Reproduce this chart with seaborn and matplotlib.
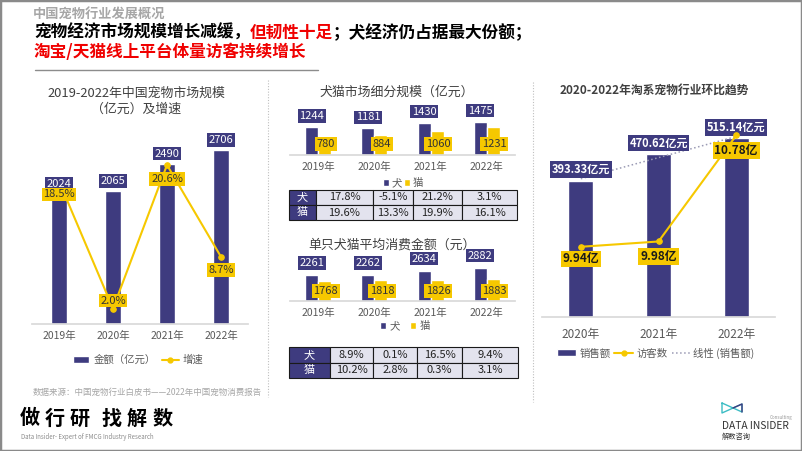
import matplotlib
matplotlib.use("Agg")
import matplotlib.pyplot as plt
import seaborn as sns
import numpy as np
import pandas as pd
from matplotlib.patches import Patch, Rectangle
from matplotlib.lines import Line2D

# data
years4 = ["2019年", "2020年", "2021年", "2022年"]
market_size = [2024, 2065, 2490, 2706]
market_growth = [18.5, 2.0, 20.6, 8.7]

dog_market = [1244, 1181, 1430, 1475]
cat_market = [780, 884, 1060, 1231]
dog_market_growth = ["17.8%", "-5.1%", "21.2%", "3.1%"]
cat_market_growth = ["19.6%", "13.3%", "19.9%", "16.1%"]

dog_spend = [2261, 2262, 2634, 2882]
cat_spend = [1768, 1818, 1826, 1883]
dog_spend_growth = ["8.9%", "0.1%", "16.5%", "9.4%"]
cat_spend_growth = ["10.2%", "2.8%", "0.3%", "3.1%"]

years3 = ["2020年", "2021年", "2022年"]
tb_sales = [393.33, 470.62, 515.14]
tb_visitors = [9.94, 9.98, 10.78]

NAVY = "#3e3b7f"
YELLOW = "#f6c800"
CELL = "#e3e3ee"
TICK = "#595959"
W, H = 802, 451

sns.set_theme(style="white")
plt.rcParams["font.family"] = ["Noto Sans CJK SC", "DejaVu Sans"]

fig = plt.figure(figsize=(W / 100, H / 100), dpi=100)


def rect(l, t, w, h):
    return [l / W, 1 - (t + h) / H, w / W, h / H]


def ftext(x, y, s, **kw):
    return fig.text(x / W, 1 - y / H, s, **kw)


def clean(ax):
    for s in ["top", "right", "left"]:
        ax.spines[s].set_visible(False)
    ax.spines["bottom"].set_color("#d9d9d9")
    ax.set_yticks([])
    ax.set_xlabel("")
    ax.set_ylabel("")
    ax.tick_params(axis="x", length=0, labelsize=7.5, colors=TICK, pad=5)


def box_label(ax, x, y, s, dy, fc, tc, size=8, weight="normal", xycoords="data"):
    ax.annotate(s, (x, y), xycoords=xycoords, xytext=(0, dy), textcoords="offset pixels",
                ha="center", va="center", color=tc, fontsize=size, weight=weight,
                bbox=dict(boxstyle="square,pad=0.15", fc=fc, ec="none"), zorder=10)


# ---------------- header ----------------
ftext(33, 14, "中国宠物行业发展概况", color="#a6a6a6", fontsize=9.5, weight="bold", va="center")
r = fig.canvas.get_renderer()
runs1 = [("宠物经济市场规模增长减缓，", "black"), ("但韧性十足", "#f00000"),
         ("；犬经济仍占据最大份额；", "black")]
x = 34
for s, c in runs1:
    t = ftext(x, 33, s, color=c, fontsize=12, weight="bold", va="center")
    x += t.get_window_extent(renderer=r).width
ftext(34, 52, "淘宝/天猫线上平台体量访客持续增长", color="#f00000", fontsize=12, weight="bold", va="center")
fig.add_artist(Line2D([35 / W, 318 / W], [1 - 70 / H] * 2, color="#8c8c8c", lw=1))

# ---------------- left chart ----------------
ftext(136, 93, "2019-2022年中国宠物市场规模", ha="center", va="center", fontsize=9.3, color="#404040")
ftext(136, 109, "（亿元）及增速", ha="center", va="center", fontsize=9.3, color="#404040")

ax1 = fig.add_axes(rect(32, 131, 216, 193))
sns.barplot(x=years4, y=market_size, ax=ax1, color=NAVY, saturation=1, width=0.31)
ax1.set_xlim(-0.5, 3.5)
ax1.set_ylim(0, 3000)
clean(ax1)

ax1b = ax1.twinx()
sns.lineplot(x=np.arange(4), y=market_growth, ax=ax1b, color=YELLOW, marker="o",
             markersize=4, markeredgecolor=YELLOW, linewidth=1.5)
ax1b.set_ylim(0, 25)
ax1b.set_xlim(-0.5, 3.5)
ax1b.axis("off")
# bar labels drawn on the twin so they sit above the growth line
for i, v in enumerate(market_size):
    box_label(ax1b, i, v, str(v), 10, NAVY, "white", xycoords=ax1.transData)
g_off = [-13, 8, -14, -13]
for i, v in enumerate(market_growth):
    box_label(ax1b, i, v, f"{v:.1f}%", g_off[i], YELLOW, "#333333")

ax1.legend(handles=[Patch(fc=NAVY), Line2D([0], [0], color=YELLOW, marker="o", ms=3.5, lw=1.5)],
           labels=["金额（亿元）", "增速"], loc="center", bbox_to_anchor=(138 / W, 1 - 360 / H),
           bbox_transform=fig.transFigure, ncol=2, frameon=False, fontsize=7.5,
           handlelength=1.6, handletextpad=0.4, columnspacing=0.6, labelcolor=TICK)

# ---------------- middle top chart ----------------
ftext(397, 92, "犬猫市场细分规模（亿元）", ha="center", va="center", fontsize=9.3, color="#404040")
df_m = pd.DataFrame({"year": years4 * 2, "value": dog_market + cat_market,
                     "kind": ["犬"] * 4 + ["猫"] * 4})
ax2 = fig.add_axes(rect(290, 110, 225, 45))
sns.barplot(data=df_m, x="year", y="value", hue="kind", palette=[NAVY, YELLOW],
            saturation=1, width=0.46, gap=0, ax=ax2, legend=False)
ax2.set_xlim(-0.5, 3.5)
ax2.set_ylim(0, 2000)
clean(ax2)
for bar, v in zip(ax2.containers[0], dog_market):
    box_label(ax2, bar.get_x() + bar.get_width() / 2, v, str(v), 11, NAVY, "white")
for bar, v in zip(ax2.containers[1], cat_market):
    box_label(ax2, bar.get_x() + bar.get_width() / 2 + 0.02, 0, str(v), 11, YELLOW, "#333333")
ax2.legend(handles=[Patch(fc=NAVY), Patch(fc=YELLOW)], labels=["犬", "猫"], loc="center",
           bbox_to_anchor=(403 / W, 1 - 183 / H), bbox_transform=fig.transFigure, ncol=2,
           frameon=False, fontsize=7.5, handlelength=0.6, handleheight=0.6,
           handletextpad=0.2, columnspacing=0.2, labelcolor=TICK)


def draw_table(l, t, w, h, rows, col_px):
    axt = fig.add_axes(rect(l, t, w, h))
    axt.axis("off")
    widths = [c / sum(col_px) for c in col_px]
    tb = axt.table(cellText=rows, colWidths=widths, bbox=[0, 0, 1, 1], cellLoc="center")
    tb.auto_set_font_size(False)
    for (ri, ci), cell in tb.get_celld().items():
        cell.set_edgecolor("#1a1a1a")
        cell.set_linewidth(0.8)
        cell.get_text().set_fontsize(8)
        if ci == 0:
            cell.set_facecolor(NAVY)
            cell.get_text().set_color("white")
        else:
            cell.set_facecolor(CELL)
            cell.get_text().set_color("#222222")
    return axt


draw_table(289, 190, 228, 30,
           [["犬"] + dog_market_growth, ["猫"] + cat_market_growth],
           [27, 57, 40, 49, 55])

# ---------------- middle bottom chart ----------------
ftext(392, 245, "单只犬猫平均消费金额（元）", ha="center", va="center", fontsize=9.3, color="#404040")
df_s = pd.DataFrame({"year": years4 * 2, "value": dog_spend + cat_spend,
                     "kind": ["犬"] * 4 + ["猫"] * 4})
ax3 = fig.add_axes(rect(290, 256, 225, 45))
sns.barplot(data=df_s, x="year", y="value", hue="kind", palette=[NAVY, YELLOW],
            saturation=1, width=0.46, gap=0, ax=ax3, legend=False)
ax3.set_xlim(-0.5, 3.5)
ax3.set_ylim(0, 3900)
clean(ax3)
for bar, v in zip(ax3.containers[0], dog_spend):
    box_label(ax3, bar.get_x() + bar.get_width() / 2, v, str(v), 12, NAVY, "white")
for bar, v in zip(ax3.containers[1], cat_spend):
    box_label(ax3, bar.get_x() + bar.get_width() / 2 + 0.02, 0, str(v), 10, YELLOW, "#333333")
ax3.legend(handles=[Patch(fc=NAVY), Patch(fc=YELLOW)], labels=["犬", "猫"], loc="center",
           bbox_to_anchor=(405 / W, 1 - 326 / H), bbox_transform=fig.transFigure, ncol=2,
           frameon=False, fontsize=7.5, handlelength=0.6, handleheight=0.6,
           handletextpad=0.3, columnspacing=1.0, labelcolor=TICK)

draw_table(289, 347, 229, 31,
           [["犬"] + dog_spend_growth, ["猫"] + cat_spend_growth],
           [41, 43, 44, 45, 56])

# ---------------- right chart ----------------
ftext(654, 91, "2020-2022年淘系宠物行业环比趋势", ha="center", va="center", fontsize=8.5,
      color="#404040", weight="bold")
ax4 = fig.add_axes(rect(542, 109, 233, 208))
sns.barplot(x=years3, y=tb_sales, ax=ax4, color=NAVY, saturation=1, width=0.32)
ax4.set_xlim(-0.5, 2.5)
ax4.set_ylim(0, 600)
clean(ax4)
ax4.tick_params(axis="x", labelsize=8.5, pad=8)
idx3 = np.arange(3)
fit = np.polyval(np.polyfit(idx3, tb_sales, 1), idx3)
ax4.plot(idx3, fit, ls=":", color="#9a9ab4", lw=1.1, zorder=5)
for i, v in enumerate(tb_sales):
    box_label(ax4, i, v, f"{v:.2f}亿元", 11, NAVY, "white", size=8, weight="bold")

ax4b = ax4.twinx()
sns.lineplot(x=idx3, y=tb_visitors, ax=ax4b, color=YELLOW, marker="o", markersize=4,
             markeredgecolor=YELLOW, linewidth=1.5)
ax4b.set_ylim(9.41, 10.98)
ax4b.set_xlim(-0.5, 2.5)
ax4b.axis("off")
v_off = [-12, -15, -15]
for i, v in enumerate(tb_visitors):
    box_label(ax4b, i, v, f"{v:.2f}亿", v_off[i], YELLOW, "#1a1a1a", size=8.5, weight="bold")

ax4.legend(handles=[Patch(fc=NAVY), Line2D([0], [0], color=YELLOW, marker="o", ms=3.5, lw=1.5),
                    Line2D([0], [0], color="#9a9ab4", ls=":", lw=1.1)],
           labels=["销售额", "访客数", "线性 (销售额)"], loc="center",
           bbox_to_anchor=(656 / W, 1 - 353 / H), bbox_transform=fig.transFigure, ncol=3,
           frameon=False, fontsize=7.5, handlelength=1.8, handletextpad=0.3,
           columnspacing=0.4, labelcolor=TICK)

# ---------------- separators ----------------
for xs, y0, y1 in [(268, 80, 397), (533, 82, 402)]:
    fig.add_artist(Line2D([xs / W] * 2, [1 - y0 / H, 1 - y1 / H], color="#bfbfbf",
                          ls=(0, (1, 1.5)), lw=0.8))

# ---------------- footer ----------------
ftext(33, 392, "数据来源：中国宠物行业白皮书——2022年中国宠物消费报告", color="#a6a6a6",
      fontsize=6.1, va="center")
slogan = "做行研找解数"
slogan_x = [30, 55, 80, 112, 137, 163]
for ch, cx in zip(slogan, slogan_x):
    ftext(cx, 418, ch, color="black", fontsize=14.5, weight="heavy", ha="center", va="center")
ftext(21, 437, "Data Insider- Expert of FMCG Industry Research", color="#8c8c8c",
      fontsize=4.4, va="center")
ftext(722, 426, "DATA INSIDER", color="#333333", fontsize=7.4, va="center")
ftext(722, 437, "解数咨询", color="#333333", fontsize=5.2, va="center")
ftext(770, 417, "Consulting", color="#999999", fontsize=3.3, va="center")
logo = [(722, 403), (742, 412), (742, 404), (722, 413), (722, 403)]
fig.add_artist(Line2D([p[0] / W for p in logo], [1 - p[1] / H for p in logo],
                      color="#3cbcc4", lw=1))
fig.add_artist(Line2D([733 / W, 742 / W, 742 / W], [1 - 408 / H, 1 - 404 / H, 1 - 412 / H],
                      color=NAVY, lw=1))

fig.add_artist(Rectangle((0, 0), 1, 1, transform=fig.transFigure, fill=False,
                         ec="#8a8a8a", lw=2.5))

fig.savefig("out.png", dpi=100)
